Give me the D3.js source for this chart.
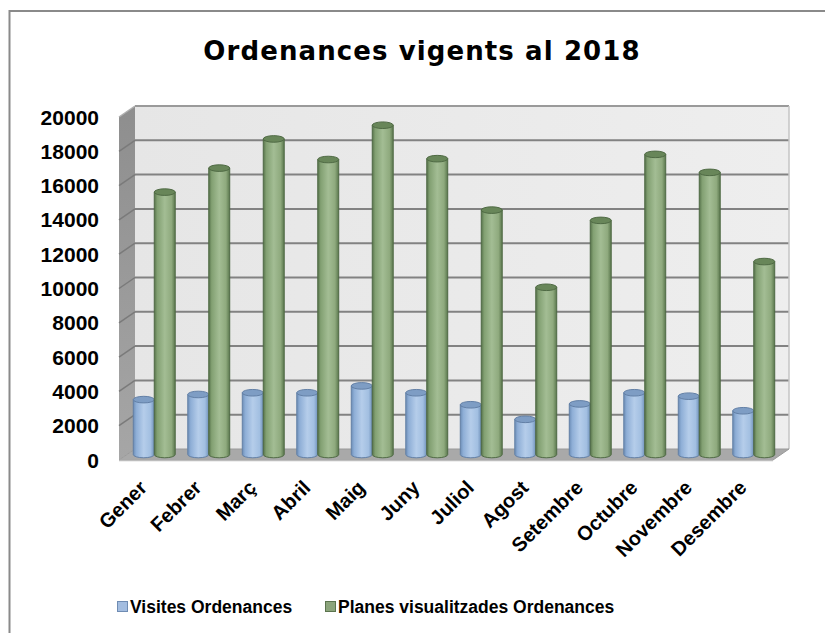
<!DOCTYPE html>
<html>
<head>
<meta charset="utf-8">
<script src="https://cdn.jsdelivr.net/npm/d3@7"></script>
<style>
  html, body { margin: 0; padding: 0; background: #ffffff; }
  svg { display: block; }
</style>
</head>
<body>
<svg id="chart" width="825" height="633"></svg>
<script>
// Monthly figures
const months = ["Gener", "Febrer", "Març", "Abril", "Maig", "Juny", "Juliol", "Agost", "Setembre", "Octubre", "Novembre", "Desembre"];
const visites = [3200, 3500, 3600, 3600, 4000, 3600, 2900, 2050, 2950, 3600, 3400, 2550];
const planes = [15300, 16700, 18400, 17200, 19200, 17250, 14250, 9750, 13650, 17500, 16450, 11250];
const seriesNames = ["Visites Ordenances", "Planes visualitzades Ordenances"];
const yTicks = [0, 2000, 4000, 6000, 8000, 10000, 12000, 14000, 16000, 18000, 20000];

const svg = d3.select("#chart");

// 3D box: front plane plus a depth offset towards the upper right
const front = { left: 119, right: 773, bottom: 460, top: 117 };
const depth = { dx: 16, dy: -11 };

const yFront = d3.scaleLinear().domain([0, 20000]).range([front.bottom, front.top]);
const yBack = v => yFront(v) + depth.dy;
const yMid = v => yFront(v) + depth.dy / 2;

const xFront = d3.scaleBand().domain(months).range([front.left, front.right]);
const xMid = d3.scaleBand().domain(months)
  .range([front.left + depth.dx / 2, front.right + depth.dx / 2])
  .paddingInner(0.23).paddingOuter(0.115);
const xSeries = d3.scaleBand().domain([0, 1]).range([0, xMid.bandwidth()]);

const defs = svg.append("defs");

// Horizontal shading for the cylinders
function cylGradient(id, stops) {
  const g = defs.append("linearGradient").attr("id", id)
    .attr("x1", "0%").attr("x2", "100%").attr("y1", "0%").attr("y2", "0%");
  stops.forEach(([o, c]) => g.append("stop").attr("offset", o).attr("stop-color", c));
}
cylGradient("gBlue", [["0%", "#6c8db6"], ["14%", "#8eaed6"], ["50%", "#b5cdea"], ["82%", "#a2bfe1"], ["100%", "#7192bb"]]);
cylGradient("gGreen", [["0%", "#56724a"], ["14%", "#82a072"], ["50%", "#a3bd94"], ["82%", "#8faa7e"], ["100%", "#5a774d"]]);

const wallGrad = defs.append("linearGradient").attr("id", "gWall")
  .attr("x1", "0%").attr("x2", "100%");
wallGrad.append("stop").attr("offset", "0%").attr("stop-color", "#e6e6e6");
wallGrad.append("stop").attr("offset", "100%").attr("stop-color", "#eeeeee");

const sideGrad = defs.append("linearGradient").attr("id", "gSide")
  .attr("x1", "0%").attr("x2", "0%").attr("y1", "0%").attr("y2", "100%");
sideGrad.append("stop").attr("offset", "0%").attr("stop-color", "#8e8e8e");
sideGrad.append("stop").attr("offset", "100%").attr("stop-color", "#a6a6a6");

// Outer frame (runs past the right and bottom edges)
svg.append("rect")
  .attr("x", 9.5).attr("y", 11).attr("width", 840).attr("height", 640)
  .attr("fill", "#ffffff").attr("stroke", "#8a8a8a").attr("stroke-width", 2);

// Title
svg.append("text")
  .attr("x", 422).attr("y", 60)
  .attr("text-anchor", "middle")
  .attr("font-family", "'DejaVu Sans', Verdana, sans-serif")
  .attr("font-weight", "bold")
  .attr("font-size", 26)
  .attr("letter-spacing", 1.1)
  .attr("fill", "#000")
  .text("Ordenances vigents al 2018");

const bx0 = front.left + depth.dx, bx1 = front.right + depth.dx;

// Back wall
svg.append("rect")
  .attr("x", bx0).attr("y", yBack(20000))
  .attr("width", bx1 - bx0).attr("height", yBack(0) - yBack(20000))
  .attr("fill", "url(#gWall)");

// Left side wall
svg.append("path")
  .attr("d", d3.line()([[front.left, yFront(0)], [front.left, yFront(20000)], [bx0, yBack(20000)], [bx0, yBack(0)]]) + "Z")
  .attr("fill", "url(#gSide)");

// Gridlines on the back wall and the side wall
yTicks.filter(v => v > 0).forEach(v => {
  svg.append("line")
    .attr("x1", bx0).attr("x2", bx1)
    .attr("y1", yBack(v)).attr("y2", yBack(v))
    .attr("stroke", v === 20000 ? "#9a9a9a" : "#828282").attr("stroke-width", 2);
  svg.append("line")
    .attr("x1", front.left).attr("x2", bx0)
    .attr("y1", yFront(v)).attr("y2", yBack(v))
    .attr("stroke", v === 20000 ? "#b0b0b0" : "#7a7a7a").attr("stroke-width", 1.5);
});

// Right edge of the back wall
svg.append("line")
  .attr("x1", bx1).attr("x2", bx1)
  .attr("y1", yBack(20000)).attr("y2", yBack(0))
  .attr("stroke", "#c4c4c4").attr("stroke-width", 1.5);

// Floor
svg.append("path")
  .attr("d", d3.line()([[front.left, yFront(0)], [front.right, yFront(0)], [bx1, yBack(0)], [bx0, yBack(0)]]) + "Z")
  .attr("fill", "#a9a9a9").attr("stroke", "#9a9a9a").attr("stroke-width", 1);
svg.append("line")
  .attr("x1", front.left).attr("x2", front.right)
  .attr("y1", yFront(0) + 0.5).attr("y2", yFront(0) + 0.5)
  .attr("stroke", "#bdbdbd").attr("stroke-width", 1.5);

// Cylinders
const ry = 3.3;
const styles = [
  { fill: "url(#gBlue)", edge: "#6380a6", top: "#7e9dc4" },
  { fill: "url(#gGreen)", edge: "#4f6a44", top: "#688659" }
];

months.forEach((m, i) => {
  [visites[i], planes[i]].forEach((v, s) => {
    const st = styles[s];
    const x0 = xMid(m) + xSeries(s);
    const w = xSeries.bandwidth();
    const rx = w / 2;
    const cx = x0 + rx;
    const yt = yMid(v);
    const yb = yMid(0);
    const body = `M${x0},${yt} L${x0},${yb} A${rx},${ry} 0 0 0 ${x0 + w},${yb} L${x0 + w},${yt} Z`;
    svg.append("path")
      .attr("d", body)
      .attr("fill", st.fill)
      .attr("stroke", st.edge).attr("stroke-width", 1);
    svg.append("ellipse")
      .attr("cx", cx).attr("cy", yt).attr("rx", rx).attr("ry", ry)
      .attr("fill", st.top).attr("stroke", st.edge).attr("stroke-width", 1);
  });
});

// Value axis labels on the front plane
const axisFont = "'Liberation Sans', Arial, sans-serif";
svg.append("g").selectAll("text").data(yTicks).join("text")
  .attr("x", 99).attr("y", d => yFront(d))
  .attr("dy", "0.36em")
  .attr("text-anchor", "end")
  .attr("font-family", axisFont).attr("font-weight", "bold").attr("font-size", 21)
  .attr("fill", "#000")
  .text(d => d);

// Month labels, rotated
svg.append("g").selectAll("text").data(months).join("text")
  .attr("transform", d => `translate(${xFront(d) + xFront.bandwidth() / 2 + 2},${489}) rotate(-45)`)
  .attr("text-anchor", "end")
  .attr("font-family", axisFont).attr("font-weight", "bold").attr("font-size", 20)
  .attr("fill", "#000")
  .text(d => d);

// Legend
const legendItems = [
  { x: 117, color: "#a3bde0", edge: "#6f8cb3" },
  { x: 325, color: "#8ba47b", edge: "#5b744e" }
];
legendItems.forEach((it, k) => {
  svg.append("rect")
    .attr("x", it.x + 0.5).attr("y", 601.5).attr("width", 10).attr("height", 10)
    .attr("fill", it.color).attr("stroke", it.edge).attr("stroke-width", 1);
  svg.append("text")
    .attr("x", it.x + 13).attr("y", 613)
    .attr("font-family", axisFont).attr("font-weight", "bold").attr("font-size", 17.5)
    .attr("fill", "#000")
    .text(seriesNames[k]);
});
</script>
</body>
</html>
